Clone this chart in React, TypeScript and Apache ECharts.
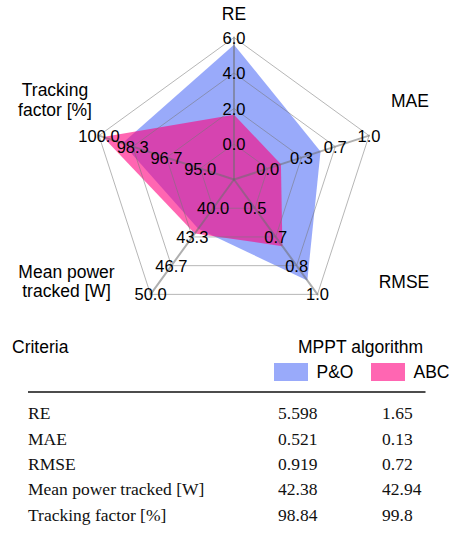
import React, { useEffect, useRef } from 'react';
import * as echarts from 'echarts';

// ---- data ----
const criteria = ['RE', 'MAE', 'RMSE', 'Mean power tracked [W]', 'Tracking factor [%]'];
const axisNames = ['RE', 'MAE', 'RMSE', 'Mean power\ntracked [W]', 'Tracking\nfactor [%]'];
const axisLow = [0, 0, 0.5, 40, 95];
const axisHigh = [6, 1, 1, 50, 100];
const seriesNames = ['P&O', 'ABC'];
const poValues = [5.598, 0.521, 0.919, 42.38, 98.84];
const abcValues = [1.65, 0.13, 0.72, 42.94, 99.8];
const tableHeader = ['Criteria', 'MPPT algorithm'];

const SANS = '"Liberation Sans", Arial, Helvetica, sans-serif';
const SERIF = '"Liberation Serif", "Times New Roman", Times, serif';

const BLUE = 'rgb(85,113,247)';
const PINK = 'rgb(255,0,127)';
const BLUE_SW = '#99aafa';
const PINK_SW = '#ff66b2';

const SPLIT = 4;

export default function App() {
  const ref = useRef<HTMLDivElement>(null);
  useEffect(() => {
    if (!ref.current) return;
    const chart = echarts.init(ref.current, null, { renderer: 'svg' });

    // ECharts radar runs counter-clockwise; reorder for clockwise layout
    const order = [0, 4, 3, 2, 1];
    const indicator = order.map((i) => ({
      name: criteria[i],
      min: axisLow[i] - (axisHigh[i] - axisLow[i]) / 3,
      max: axisHigh[i],
    }));

    const cx = 234, cy = 179.5;

    const namePos = [
      { x: 234, y: 14, align: 'center' },
      { x: 410, y: 100.5, align: 'center' },
      { x: 404, y: 281.5, align: 'center' },
      { x: 66.5, y: 281.5, align: 'center' },
      { x: 55, y: 100, align: 'center' },
    ];

    const graphics: any[] = [];
    axisNames.forEach((n, i) => {
      graphics.push({
        type: 'text',
        z: 10,
        style: {
          text: n,
          x: namePos[i].x,
          y: namePos[i].y,
          textAlign: namePos[i].align,
          textVerticalAlign: 'middle',
          fontSize: 17.5,
          fontFamily: SANS,
          lineHeight: 19.5,
          fill: '#000',
        },
      });
    });

    // table header
    graphics.push({
      type: 'text',
      style: { text: tableHeader[0], x: 12, y: 347, textVerticalAlign: 'middle', fontSize: 17.5, fontFamily: SANS, fill: '#000' },
    });
    graphics.push({
      type: 'text',
      style: { text: tableHeader[1], x: 298, y: 347, textVerticalAlign: 'middle', fontSize: 17.5, fontFamily: SANS, fill: '#000' },
    });
    // legend swatches
    const swatchX = [274, 371];
    const swatchColors = [BLUE_SW, PINK_SW];
    seriesNames.forEach((s, i) => {
      graphics.push({
        type: 'rect',
        shape: { x: swatchX[i], y: 363, width: 34, height: 18 },
        style: { fill: swatchColors[i] },
      });
      graphics.push({
        type: 'text',
        style: { text: s, x: swatchX[i] + 42.5, y: 372, textVerticalAlign: 'middle', fontSize: 17.5, fontFamily: SANS, fill: '#000' },
      });
    });
    // rule
    graphics.push({
      type: 'line',
      shape: { x1: 28, y1: 392, x2: 425.5, y2: 392 },
      style: { stroke: '#111', lineWidth: 1.4 },
    });
    // rows
    criteria.forEach((c, i) => {
      const y = 413.3 + i * 25.3;
      graphics.push({
        type: 'text',
        style: { text: c, x: 28, y, textVerticalAlign: 'middle', fontSize: 17.5, fontFamily: SERIF, fill: '#111' },
      });
      graphics.push({
        type: 'text',
        style: { text: String(poValues[i]), x: 278, y, textVerticalAlign: 'middle', fontSize: 17.5, fontFamily: SERIF, fill: '#111' },
      });
      graphics.push({
        type: 'text',
        style: { text: String(abcValues[i]), x: 382, y, textVerticalAlign: 'middle', fontSize: 17.5, fontFamily: SERIF, fill: '#111' },
      });
    });

    const labelBase = {
      show: true,
      hideOverlap: false,
      margin: 0,
      align: 'center',
      verticalAlign: 'middle',
      padding: [3, 0, 0, 0],
      fontSize: 16.5,
      fontFamily: SANS,
      color: '#000',
    };

    chart.setOption({
      animation: false,
      radar: [
        {
          z: 5,
          center: [cx, cy],
          radius: 142,
          startAngle: 90,
          shape: 'polygon',
          splitNumber: SPLIT,
          indicator,
          axisName: { show: false },
          axisLine: { lineStyle: { color: 'rgba(110,110,110,0.55)', width: 2 } },
          axisTick: { show: false },
          splitLine: { lineStyle: { color: 'rgba(120,120,120,0.6)', width: 0.9 } },
          splitArea: { show: false },
          axisLabel: {
            ...labelBase,
            showMaxLabel: false,
            formatter: (v: any, idx: number) => (idx === 0 || idx >= SPLIT ? '' : Number(v).toFixed(1)),
          },
        },
        {
          z: 6,
          center: [cx, cy],
          radius: 142,
          startAngle: 90,
          shape: 'polygon',
          splitNumber: SPLIT,
          indicator,
          axisName: { show: false },
          axisLine: { show: false },
          axisTick: { show: false },
          splitLine: { show: false },
          splitArea: { show: false },
          axisLabel: {
            ...labelBase,
            showMaxLabel: true,
            formatter: (v: any, idx: number) => (idx === SPLIT ? Number(v).toFixed(1) : ''),
          },
        },
      ],
      series: [
        {
          type: 'radar',
          radarIndex: 0,
          z: 2,
          symbol: 'none',
          data: [
            {
              name: seriesNames[0],
              value: order.map((i) => poValues[i]),
              lineStyle: { width: 0, color: BLUE },
              areaStyle: { color: BLUE, opacity: 0.6 },
              itemStyle: { color: BLUE },
            },
            {
              name: seriesNames[1],
              value: order.map((i) => abcValues[i]),
              lineStyle: { width: 0, color: PINK },
              areaStyle: { color: PINK, opacity: 0.6 },
              itemStyle: { color: PINK },
            },
          ],
        },
      ],
      graphic: graphics,
    });
    return () => chart.dispose();
  }, []);
  return <div ref={ref} style={{ position: 'fixed', left: 0, top: 0, width: 454, height: 533, background: '#fff' }} />;
}
